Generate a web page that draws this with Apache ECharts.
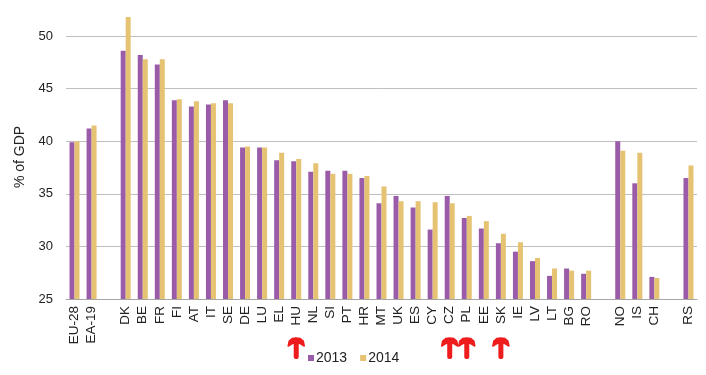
<!DOCTYPE html>
<html>
<head>
<meta charset="utf-8">
<script src="https://cdn.jsdelivr.net/npm/echarts@6/dist/echarts.min.js"></script>
<style>html,body{margin:0;padding:0;background:#fff;}#c{width:706px;height:375px;}</style>
</head>
<body>
<div id="c"></div>
<script>
const categories = ['EU-28','EA-19',' ','DK','BE','FR','FI','AT','IT','SE','DE','LU','EL','HU','NL','SI','PT','HR','MT','UK','ES','CY','CZ','PL','EE','SK','IE','LV','LT','BG','RO','  ','NO','IS','CH','   ','RS'];
const values2013 = [39.9,41.2,null,48.6,48.2,47.3,43.9,43.3,43.5,43.9,39.4,39.4,38.2,38.1,37.1,37.2,37.2,36.5,34.1,34.8,33.7,31.6,34.8,32.7,31.7,30.3,29.5,28.6,27.2,27.9,27.4,null,40.0,36.0,27.1,null,36.5];
const values2014 = [40.0,41.5,null,51.8,47.8,47.8,44.0,43.8,43.6,43.6,39.5,39.4,38.9,38.3,37.9,36.9,36.9,36.7,35.7,34.3,34.3,34.2,34.1,32.9,32.4,31.2,30.4,28.9,27.9,27.7,27.7,null,39.1,38.9,27.0,null,37.7];
const seriesNames = ['2013','2014'];
const markedCategories = ['HU','CZ','PL','SK'];

const font = 'Liberation Sans, Arial, sans-serif';
const chart = echarts.init(document.getElementById('c'), null, {renderer:'canvas'});
chart.setOption({
  animation: false,
  backgroundColor: '#fff',
  grid: {left: 66, right: 9, top: 15, bottom: 76},
  legend: {
    left: 303, top: 346,
    itemWidth: 6, itemHeight: 6, itemGap: 13,
    icon: 'rect',
    textStyle: {fontFamily: font, fontSize: 14, color: '#222', padding: [0,0,0,-3]},
    data: seriesNames
  },
  xAxis: {
    type: 'category',
    data: categories,
    axisLine: {lineStyle: {color: '#a6a6a6', width: 1}},
    axisTick: {length: 5, lineStyle: {color: '#a6a6a6'}, interval: 0},
    axisLabel: {rotate: 90, interval: 0, margin: 7, fontFamily: font, fontSize: 13.5, color: '#222'}
  },
  yAxis: {
    type: 'value', min: 25, max: 52, interval: 5,
    name: '% of GDP', nameLocation: 'middle', nameGap: 39, nameRotate: 90,
    nameTextStyle: {fontFamily: font, fontSize: 14, color: '#222'},
    axisLine: {show: false}, axisTick: {show: false},
    axisLabel: {margin: 13, fontFamily: font, fontSize: 13, color: '#222', showMaxLabel: false,
      formatter: v => (v % 5 === 0 ? String(v) : '')},
    splitLine: {showMaxLine: false, showMinLine: false, lineStyle: {color: '#bfbfbf', width: 1}}
  },
  series: [
    {name: seriesNames[0], type: 'bar', data: values2013, barWidth: 5, barGap: '0%', itemStyle: {color: '#9a5ca8'}},
    {name: seriesNames[1], type: 'bar', data: values2014, barWidth: 5, barGap: '0%', itemStyle: {color: '#e5c373'}}
  ]
});

// red hand-drawn arrows under some categories
const arrows = markedCategories.map(cat => {
  const x = chart.convertToPixel({xAxisIndex: 0}, cat);
  return {
    type: 'group', x: x, y: 338,
    children: [
      {type: 'rect', shape: {x: -2.5, y: 4, width: 5, height: 17, r: 2}, style: {fill: '#ee1c1c'}},
      {type: 'polygon', shape: {points: [[-8,8],[-7,3],[-4,0.5],[0,0],[4,0.5],[7,3],[8,8],[4,5.5],[0,5],[-4,5.5]]}, style: {fill: '#ee1c1c', stroke: '#ee1c1c', lineWidth: 1.5, lineJoin: 'round'}}
    ]
  };
});
chart.setOption({graphic: arrows});
</script>
</body>
</html>
